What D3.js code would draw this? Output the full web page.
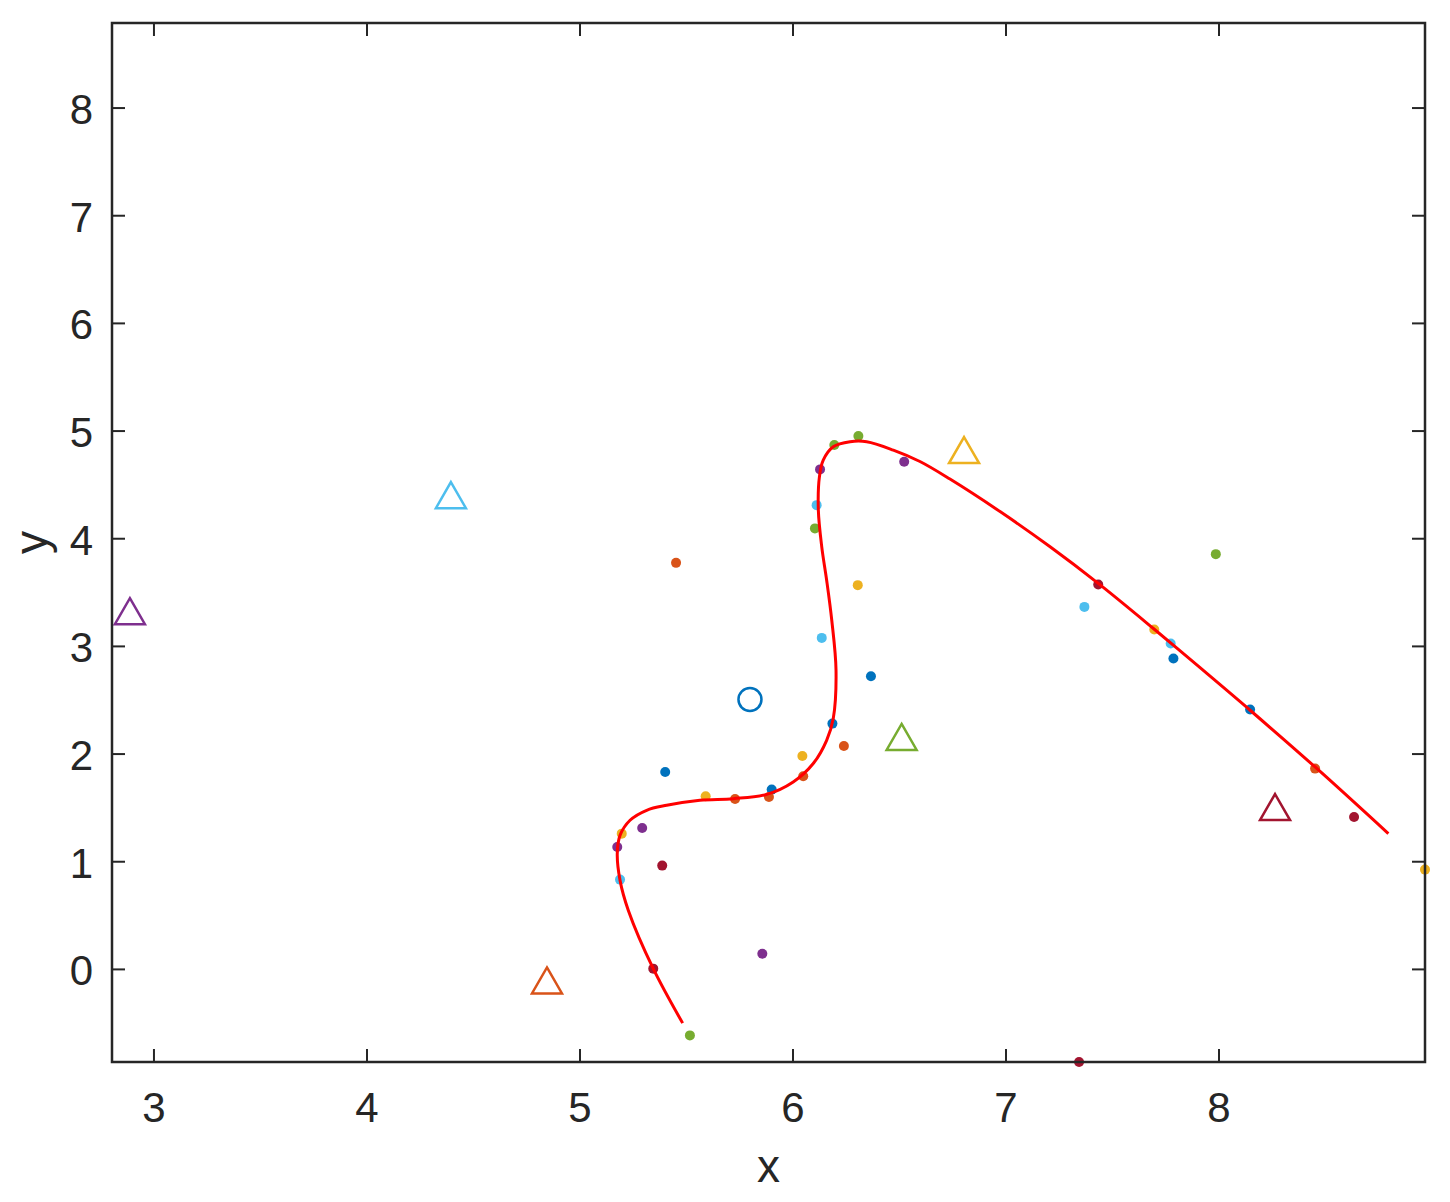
<!DOCTYPE html>
<html>
<head>
<meta charset="utf-8">
<script src="https://cdn.jsdelivr.net/npm/d3@7"></script>
<style>
  html, body { margin: 0; padding: 0; background: #ffffff; }
  svg { display: block; }
</style>
</head>
<body>
<svg id="chart" width="1450" height="1202"></svg>
<script>
// ---------------- DATA ----------------
const xTicks = [3, 4, 5, 6, 7, 8];
const yTicks = [0, 1, 2, 3, 4, 5, 6, 7, 8];
const xDomain = [2.803, 8.967];
const yDomain = [-0.86, 8.79];

const groupNames = ["blue", "orange", "yellow", "purple", "green", "lightblue", "darkred"];
const groupColors = ["#0072BD", "#D95319", "#EDB120", "#7E2F8E", "#77AC30", "#4DBEEE", "#A2142F"];

// scatter points per colour group
const blueX = [6.366, 5.400, 5.900, 6.185, 7.786, 8.146];
const blueY = [2.723, 1.834, 1.670, 2.283, 2.888, 2.414];
const orangeX = [5.451, 6.239, 6.048, 5.728, 5.887, 8.451];
const orangeY = [3.776, 2.075, 1.794, 1.583, 1.601, 1.865];
const yellowX = [6.304, 6.044, 5.590, 5.196, 7.696, 8.967];
const yellowY = [3.569, 1.982, 1.608, 1.261, 3.157, 0.927];
const purpleX = [6.127, 6.522, 5.292, 5.175, 5.856];
const purpleY = [4.644, 4.715, 1.313, 1.137, 0.146];
const greenX = [6.307, 6.194, 6.103, 5.516, 7.985];
const greenY = [4.954, 4.870, 4.096, -0.613, 3.857];
const lightblueX = [6.111, 6.135, 5.188, 7.368, 7.773];
const lightblueY = [4.312, 3.079, 0.834, 3.367, 3.027];
const darkredX = [5.386, 5.344, 7.433, 8.634, 7.343];
const darkredY = [0.964, 0.007, 3.575, 1.415, -0.86];

// triangle markers (one per group, blue has none)
const triGroups = ["orange", "yellow", "purple", "green", "lightblue", "darkred"];
const triX = [4.845, 6.803, 2.887, 6.510, 4.394, 8.263];
const triY = [-0.102, 4.823, 3.327, 2.159, 4.405, 1.508];

// circle marker
const circleX = [5.798];
const circleY = [2.507];

// red curve
const curveX = [5.482, 5.344, 5.227, 5.188, 5.175, 5.188, 5.235, 5.313, 5.407, 5.563, 5.720, 5.877, 6.001, 6.095, 6.158, 6.189, 6.202, 6.182, 6.158, 6.135, 6.119, 6.124, 6.142, 6.189, 6.268, 6.346, 6.471, 6.596, 6.737, 6.972, 7.207, 7.433, 7.692, 7.911, 8.146, 8.451, 8.795];
const curveY = [-0.499, 0.007, 0.548, 0.827, 1.075, 1.245, 1.385, 1.478, 1.524, 1.571, 1.586, 1.626, 1.741, 1.912, 2.128, 2.330, 2.779, 3.243, 3.615, 3.925, 4.266, 4.575, 4.730, 4.854, 4.901, 4.901, 4.823, 4.717, 4.554, 4.252, 3.925, 3.585, 3.166, 2.802, 2.407, 1.880, 1.261];

const xLabel = "x";
const yLabel = "y";

(function draw() {
  // ---------------- LAYOUT ----------------
  const pLeft = 112, pTop = 23, pRight = 1425, pBottom = 1062;
  const axisColor = "#262626";
  const font = "'Liberation Sans', Arial, Helvetica, sans-serif";

  const svg = d3.select("#chart");
  const x = d3.scaleLinear().domain(xDomain).range([pLeft, pRight]);
  const y = d3.scaleLinear().domain(yDomain).range([pBottom, pTop]);

  const groupData = {
    blue: [blueX, blueY], orange: [orangeX, orangeY], yellow: [yellowX, yellowY],
    purple: [purpleX, purpleY], green: [greenX, greenY],
    lightblue: [lightblueX, lightblueY], darkred: [darkredX, darkredY]
  };
  const colorOf = name => groupColors[groupNames.indexOf(name)];

  const plot = svg.append("g");

  // scatter dots
  groupNames.forEach(name => {
    const [xs, ys] = groupData[name];
    plot.append("g").selectAll("circle").data(xs.map((v, i) => [v, ys[i]])).enter()
      .append("circle")
      .attr("cx", d => x(d[0])).attr("cy", d => y(d[1]))
      .attr("r", 5)
      .attr("fill", colorOf(name));
  });

  // curve
  const line = d3.line().x(d => x(d[0])).y(d => y(d[1])).curve(d3.curveCatmullRom.alpha(0.5));
  plot.append("path")
    .datum(curveX.map((v, i) => [v, curveY[i]]))
    .attr("d", line)
    .attr("fill", "none")
    .attr("stroke", "#FF0000")
    .attr("stroke-width", 3);

  // triangles
  const triSide = 30, triH = 26;
  plot.append("g").selectAll("path").data(triX.map((v, i) => [v, triY[i], triGroups[i]])).enter()
    .append("path")
    .attr("transform", d => `translate(${x(d[0])},${y(d[1])})`)
    .attr("d", `M0,${-triH / 2}L${triSide / 2},${triH / 2}L${-triSide / 2},${triH / 2}Z`)
    .attr("fill", "none")
    .attr("stroke", d => colorOf(d[2]))
    .attr("stroke-width", 2.5)
    .attr("stroke-linejoin", "miter");

  // circle marker
  plot.append("g").selectAll("circle").data(circleX.map((v, i) => [v, circleY[i]])).enter()
    .append("circle")
    .attr("cx", d => x(d[0])).attr("cy", d => y(d[1]))
    .attr("r", 11.5)
    .attr("fill", "none")
    .attr("stroke", colorOf("blue"))
    .attr("stroke-width", 2.5);

  // ---------------- AXES ----------------
  const tickLen = 13;
  const axes = svg.append("g");
  xTicks.forEach(t => {
    axes.append("line").attr("x1", x(t)).attr("x2", x(t)).attr("y1", pBottom).attr("y2", pBottom - tickLen)
      .attr("stroke", axisColor).attr("stroke-width", 2);
    axes.append("line").attr("x1", x(t)).attr("x2", x(t)).attr("y1", pTop).attr("y2", pTop + tickLen)
      .attr("stroke", axisColor).attr("stroke-width", 2);
    axes.append("text").attr("x", x(t)).attr("y", 1122)
      .attr("text-anchor", "middle").attr("font-family", font).attr("font-size", 42)
      .attr("fill", axisColor).text(t);
  });
  yTicks.forEach(t => {
    axes.append("line").attr("x1", pLeft).attr("x2", pLeft + tickLen).attr("y1", y(t)).attr("y2", y(t))
      .attr("stroke", axisColor).attr("stroke-width", 2);
    axes.append("line").attr("x1", pRight).attr("x2", pRight - tickLen).attr("y1", y(t)).attr("y2", y(t))
      .attr("stroke", axisColor).attr("stroke-width", 2);
    axes.append("text").attr("x", 93).attr("y", y(t) + 16)
      .attr("text-anchor", "end").attr("font-family", font).attr("font-size", 42)
      .attr("fill", axisColor).text(t);
  });
  axes.append("rect").attr("x", pLeft).attr("y", pTop)
    .attr("width", pRight - pLeft).attr("height", pBottom - pTop)
    .attr("fill", "none").attr("stroke", axisColor).attr("stroke-width", 2.5);

  axes.append("text").attr("x", (pLeft + pRight) / 2).attr("y", 1182)
    .attr("text-anchor", "middle").attr("font-family", font).attr("font-size", 46)
    .attr("fill", axisColor).text(xLabel);
  axes.append("text").attr("transform", `translate(47,${(pTop + pBottom) / 2}) rotate(-90)`)
    .attr("text-anchor", "middle").attr("font-family", font).attr("font-size", 46)
    .attr("fill", axisColor).text(yLabel);
})();
</script>
</body>
</html>
